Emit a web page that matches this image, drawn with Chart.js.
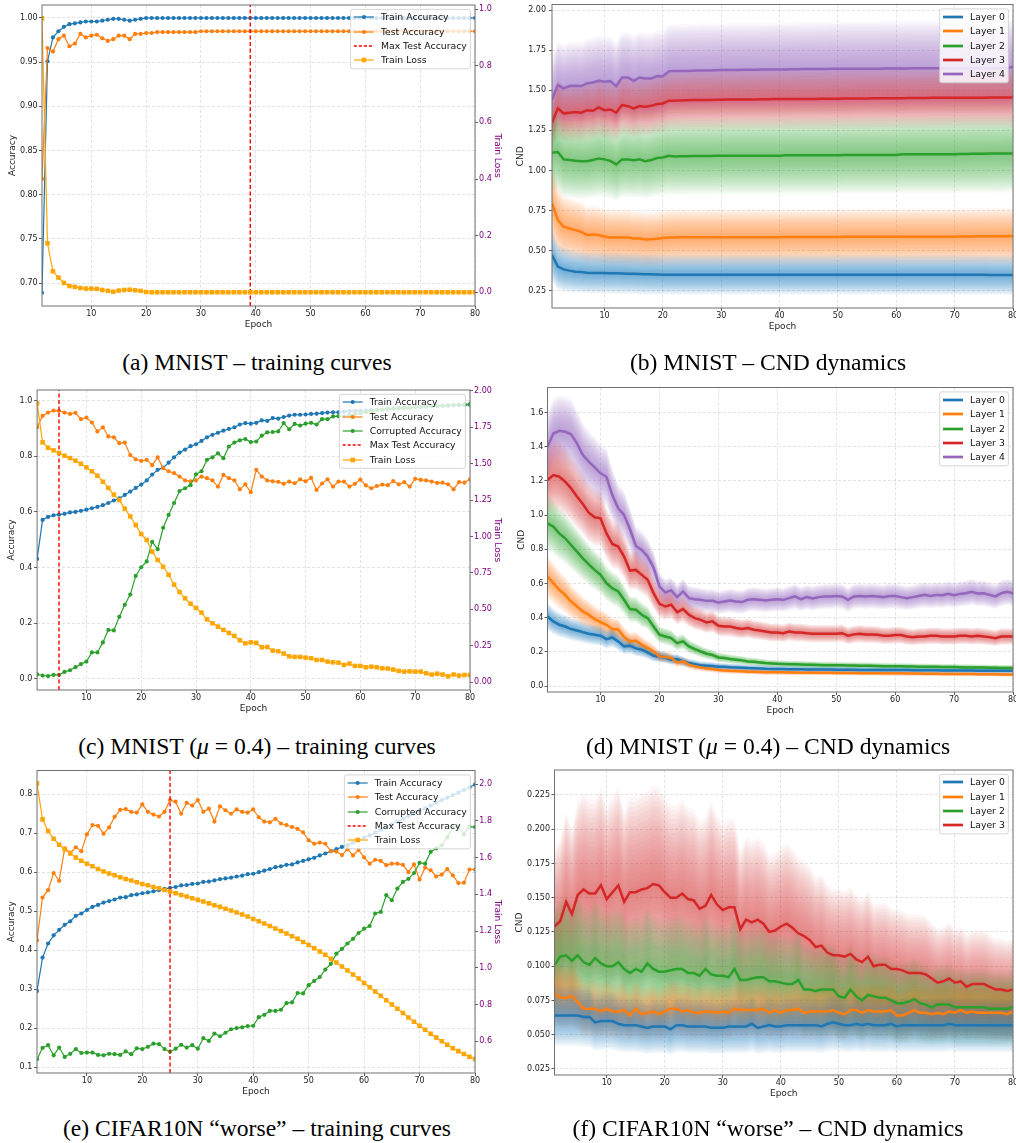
<!DOCTYPE html>
<html>
<head>
<meta charset="UTF-8">
<script src="https://cdn.jsdelivr.net/npm/chart.js@4.4.0/dist/chart.umd.min.js"></script>
<style>
  body { margin: 0; background: #fff; width: 1016px; height: 1143px; position: relative; overflow: hidden; }
  canvas { position: absolute; }
  .cap {
    position: absolute; width: 520px; text-align: center; white-space: nowrap;
    font-family: "Liberation Serif", "Times New Roman", serif; font-size: 23.6px; line-height: 24px; color: #000;
  }
</style>
</head>
<body>
<canvas id="ca" width="512" height="335" style="left:0px;top:0px"></canvas>
<canvas id="cb" width="510" height="335" style="left:506px;top:0px"></canvas>
<canvas id="cc" width="512" height="340" style="left:0px;top:380px"></canvas>
<canvas id="cd" width="510" height="340" style="left:506px;top:380px"></canvas>
<canvas id="ce" width="512" height="345" style="left:0px;top:760px"></canvas>
<canvas id="cf" width="510" height="345" style="left:506px;top:760px"></canvas>

<div class="cap" style="left:-3px;top:350px">(a) MNIST – training curves</div>
<div class="cap" style="left:508px;top:350px">(b) MNIST – CND dynamics</div>
<div class="cap" style="left:-3px;top:734px">(c) MNIST (<i>μ</i> = 0.4) – training curves</div>
<div class="cap" style="left:508px;top:734px">(d) MNIST (<i>μ</i> = 0.4) – CND dynamics</div>
<div class="cap" style="left:-3px;top:1116px">(e) CIFAR10N “worse” – training curves</div>
<div class="cap" style="left:508px;top:1116px">(f) CIFAR10N “worse” – CND dynamics</div>

<script>
// ---- data ----
const epochs = Array.from({length: 80}, (_, i) => i + 1);
const xTicks = [10, 20, 30, 40, 50, 60, 70, 80];

// (a) MNIST training curves
const trainAccA = [
  0.689,0.951,0.978,0.985,0.990,0.993,0.994,0.995,0.996,0.996,
  0.996,0.997,0.998,0.999,0.999,0.998,0.997,0.998,0.999,1.000,
  1.000,1.000,1.000,1.000,1.000,1.000,1.000,1.000,1.000,1.000,
  1.000,1.000,1.000,1.000,1.000,1.000,1.000,1.000,1.000,1.000,
  1.000,1.000,1.000,1.000,1.000,1.000,1.000,1.000,1.000,1.000,
  1.000,1.000,1.000,1.000,1.000,1.000,1.000,1.000,1.000,1.000,
  1.000,1.000,1.000,1.000,1.000,1.000,1.000,1.000,1.000,1.000,
  1.000,1.000,1.000,1.000,1.000,1.000,1.000,1.000,1.000,1.000];
const testAccA = [
  0.818,0.966,0.962,0.976,0.980,0.968,0.971,0.982,0.978,0.980,
  0.981,0.977,0.974,0.976,0.980,0.980,0.976,0.982,0.982,0.983,
  0.983,0.984,0.984,0.984,0.984,0.984,0.984,0.984,0.984,0.985,
  0.985,0.985,0.985,0.985,0.985,0.985,0.985,0.985,0.985,0.985,
  0.985,0.985,0.985,0.985,0.985,0.985,0.985,0.985,0.985,0.985,
  0.985,0.985,0.985,0.985,0.985,0.985,0.985,0.985,0.985,0.985,
  0.985,0.985,0.985,0.985,0.985,0.985,0.985,0.985,0.985,0.985,
  0.985,0.985,0.985,0.985,0.985,0.985,0.985,0.985,0.985,0.985];
const trainLossA = [
  0.968,0.173,0.074,0.052,0.033,0.022,0.019,0.015,0.013,0.013,
  0.012,0.008,0.005,0.002,0.006,0.008,0.009,0.007,0.005,0.001,
  0.000,0.000,0.000,0.000,0.000,0.000,0.000,0.000,0.000,0.000,
  0.000,0.000,0.000,0.000,0.000,0.000,0.000,0.000,0.000,0.000,
  0.000,0.000,0.000,0.000,0.000,0.000,0.000,0.000,0.000,0.000,
  0.000,0.000,0.000,0.000,0.000,0.000,0.000,0.000,0.000,0.000,
  0.000,0.000,0.000,0.000,0.000,0.000,0.000,0.000,0.000,0.000,
  0.000,0.000,0.000,0.000,0.000,0.000,0.000,0.000,0.000,0.000];
const bestEpochA = 39;
const accTicksA = [0.70, 0.75, 0.80, 0.85, 0.90, 0.95, 1.00];
const lossTicksA = [0.0, 0.2, 0.4, 0.6, 0.8, 1.0];

// (b) MNIST CND
const cndB0 = [
  0.472,0.400,0.383,0.375,0.368,0.366,0.362,0.360,0.360,0.360,
  0.359,0.358,0.357,0.356,0.355,0.354,0.352,0.352,0.351,0.350,
  0.350,0.350,0.350,0.350,0.350,0.350,0.350,0.350,0.350,0.350,
  0.350,0.350,0.350,0.350,0.350,0.350,0.350,0.350,0.350,0.350,
  0.350,0.350,0.350,0.350,0.350,0.350,0.350,0.350,0.350,0.350,
  0.350,0.350,0.350,0.350,0.350,0.350,0.350,0.350,0.350,0.350,
  0.349,0.349,0.349,0.349,0.349,0.349,0.349,0.349,0.349,0.349,
  0.349,0.349,0.349,0.349,0.349,0.348,0.348,0.348,0.348,0.348];
const cndB1 = [
  0.794,0.690,0.649,0.638,0.628,0.618,0.597,0.601,0.597,0.587,
  0.582,0.582,0.582,0.582,0.576,0.576,0.570,0.571,0.574,0.578,
  0.582,0.582,0.583,0.583,0.583,0.583,0.583,0.583,0.584,0.584,
  0.584,0.584,0.584,0.584,0.584,0.584,0.584,0.584,0.584,0.584,
  0.585,0.585,0.585,0.585,0.585,0.585,0.585,0.585,0.585,0.585,
  0.586,0.586,0.586,0.586,0.586,0.586,0.586,0.586,0.586,0.586,
  0.587,0.587,0.587,0.587,0.587,0.587,0.587,0.587,0.587,0.587,
  0.588,0.588,0.588,0.589,0.589,0.589,0.590,0.590,0.590,0.591];
const cndB2 = [
  1.110,1.115,1.069,1.065,1.060,1.058,1.058,1.065,1.075,1.069,
  1.060,1.038,1.069,1.069,1.063,1.069,1.058,1.065,1.077,1.081,
  1.092,1.087,1.089,1.089,1.090,1.090,1.090,1.090,1.091,1.091,
  1.092,1.092,1.092,1.092,1.092,1.092,1.092,1.092,1.092,1.092,
  1.094,1.094,1.094,1.094,1.094,1.094,1.094,1.094,1.094,1.094,
  1.097,1.097,1.097,1.097,1.097,1.097,1.097,1.097,1.097,1.097,
  1.101,1.101,1.101,1.101,1.101,1.101,1.101,1.101,1.101,1.101,
  1.103,1.103,1.104,1.104,1.104,1.105,1.105,1.105,1.106,1.106];
const cndB3 = [
  1.297,1.387,1.356,1.360,1.364,1.360,1.376,1.372,1.393,1.376,
  1.380,1.360,1.408,1.401,1.387,1.401,1.397,1.403,1.414,1.418,
  1.435,1.435,1.437,1.438,1.439,1.439,1.440,1.440,1.441,1.441,
  1.442,1.442,1.442,1.443,1.443,1.443,1.444,1.444,1.445,1.445,
  1.445,1.445,1.446,1.446,1.446,1.446,1.447,1.447,1.447,1.447,
  1.448,1.448,1.449,1.449,1.449,1.450,1.450,1.450,1.451,1.451,
  1.451,1.452,1.452,1.452,1.452,1.453,1.453,1.453,1.453,1.453,
  1.454,1.454,1.454,1.454,1.454,1.455,1.455,1.455,1.455,1.455];
const cndB4 = [
  1.440,1.532,1.512,1.526,1.528,1.526,1.543,1.549,1.559,1.553,
  1.557,1.526,1.580,1.580,1.559,1.580,1.574,1.574,1.588,1.588,
  1.618,1.620,1.621,1.621,1.622,1.623,1.624,1.624,1.625,1.626,
  1.626,1.627,1.627,1.628,1.628,1.628,1.629,1.629,1.630,1.630,
  1.630,1.631,1.631,1.632,1.632,1.632,1.633,1.633,1.634,1.634,
  1.634,1.634,1.635,1.635,1.635,1.635,1.635,1.636,1.636,1.636,
  1.636,1.636,1.637,1.637,1.637,1.637,1.637,1.637,1.638,1.638,
  1.638,1.638,1.638,1.638,1.638,1.638,1.638,1.638,1.637,1.647];
const spreadB = [0.36, 0.30, 0.22, 0.13, 0.18];
const cndTicksB = [0.25, 0.50, 0.75, 1.00, 1.25, 1.50, 1.75, 2.00];

// (c) MNIST (mu = 0.4) training curves
const trainAccC = [
  0.431,0.571,0.582,0.588,0.590,0.593,0.598,0.600,0.604,0.608,
  0.613,0.618,0.624,0.632,0.641,0.649,0.661,0.673,0.686,0.698,
  0.713,0.734,0.751,0.759,0.777,0.796,0.813,0.824,0.836,0.843,
  0.855,0.868,0.877,0.884,0.892,0.898,0.904,0.914,0.919,0.917,
  0.920,0.929,0.927,0.937,0.935,0.941,0.946,0.949,0.949,0.950,
  0.952,0.953,0.955,0.957,0.958,0.958,0.960,0.962,0.962,0.963,
  0.964,0.966,0.967,0.968,0.970,0.971,0.972,0.973,0.975,0.976,
  0.977,0.978,0.979,0.980,0.981,0.982,0.983,0.984,0.984,0.985];
const testAccC = [
  0.904,0.945,0.957,0.964,0.963,0.957,0.952,0.956,0.933,0.939,
  0.921,0.889,0.904,0.871,0.868,0.847,0.849,0.804,0.789,0.783,
  0.787,0.768,0.796,0.757,0.746,0.739,0.727,0.713,0.710,0.713,
  0.727,0.721,0.713,0.691,0.733,0.721,0.713,0.681,0.699,0.671,
  0.751,0.727,0.713,0.710,0.708,0.701,0.709,0.703,0.717,0.710,
  0.722,0.679,0.702,0.717,0.691,0.709,0.709,0.691,0.701,0.716,
  0.695,0.685,0.693,0.698,0.696,0.711,0.699,0.707,0.691,0.719,
  0.715,0.713,0.709,0.704,0.705,0.699,0.681,0.707,0.705,0.717];
const corruptAccC = [
  0.016,0.012,0.010,0.014,0.014,0.025,0.031,0.042,0.053,0.062,
  0.095,0.095,0.131,0.176,0.174,0.223,0.266,0.303,0.370,0.401,
  0.422,0.492,0.466,0.543,0.589,0.632,0.675,0.685,0.696,0.735,
  0.746,0.787,0.796,0.810,0.793,0.835,0.849,0.857,0.862,0.851,
  0.853,0.874,0.886,0.887,0.889,0.919,0.897,0.916,0.910,0.917,
  0.920,0.914,0.933,0.933,0.943,0.944,0.943,0.948,0.952,0.955,
  0.958,0.962,0.965,0.968,0.970,0.972,0.973,0.974,0.975,0.976,
  0.977,0.979,0.980,0.981,0.982,0.983,0.984,0.985,0.986,0.987];
const trainLossC = [
  1.913,1.646,1.609,1.591,1.573,1.554,1.538,1.520,1.499,1.474,
  1.447,1.417,1.376,1.333,1.287,1.250,1.191,1.138,1.079,1.017,
  0.976,0.896,0.839,0.793,0.738,0.670,0.619,0.576,0.539,0.510,
  0.478,0.432,0.405,0.382,0.359,0.338,0.318,0.288,0.267,0.274,
  0.270,0.240,0.242,0.217,0.213,0.197,0.178,0.174,0.174,0.169,
  0.165,0.153,0.153,0.142,0.137,0.135,0.119,0.128,0.112,0.112,
  0.103,0.107,0.103,0.096,0.094,0.087,0.078,0.073,0.075,0.073,
  0.073,0.062,0.053,0.059,0.053,0.041,0.053,0.046,0.050,0.050];
const bestEpochC = 5;
const accTicksC = [0.0, 0.2, 0.4, 0.6, 0.8, 1.0];
const lossTicksC = [0.00, 0.25, 0.50, 0.75, 1.00, 1.25, 1.50, 1.75, 2.00];

// (d) MNIST (mu = 0.4) CND
const cndD0 = [
  0.407,0.378,0.358,0.348,0.333,0.325,0.315,0.306,0.300,0.294,
  0.274,0.284,0.261,0.232,0.236,0.220,0.212,0.197,0.177,0.173,
  0.167,0.154,0.158,0.144,0.134,0.128,0.121,0.119,0.117,0.113,
  0.112,0.110,0.109,0.107,0.105,0.104,0.103,0.101,0.100,0.099,
  0.099,0.098,0.098,0.098,0.097,0.097,0.097,0.096,0.096,0.095,
  0.095,0.095,0.095,0.094,0.094,0.094,0.094,0.093,0.093,0.093,
  0.093,0.093,0.092,0.092,0.092,0.092,0.092,0.091,0.091,0.091,
  0.091,0.091,0.091,0.090,0.090,0.090,0.090,0.090,0.090,0.090];
const cndD1 = [
  0.640,0.601,0.563,0.533,0.494,0.465,0.436,0.417,0.391,0.374,
  0.358,0.333,0.329,0.286,0.261,0.265,0.241,0.222,0.202,0.173,
  0.169,0.164,0.138,0.144,0.125,0.115,0.109,0.103,0.099,0.093,
  0.091,0.089,0.088,0.086,0.084,0.083,0.082,0.081,0.081,0.080,
  0.080,0.079,0.079,0.078,0.078,0.078,0.077,0.077,0.077,0.076,
  0.076,0.076,0.076,0.075,0.075,0.075,0.075,0.074,0.074,0.074,
  0.074,0.073,0.073,0.073,0.072,0.072,0.072,0.071,0.071,0.070,
  0.070,0.070,0.070,0.069,0.069,0.069,0.069,0.068,0.068,0.068];
const cndD2 = [
  0.952,0.932,0.893,0.864,0.825,0.786,0.747,0.712,0.679,0.650,
  0.601,0.572,0.553,0.504,0.450,0.446,0.417,0.397,0.348,0.300,
  0.290,0.280,0.251,0.261,0.232,0.216,0.202,0.189,0.181,0.167,
  0.164,0.158,0.154,0.150,0.144,0.142,0.138,0.134,0.132,0.130,
  0.129,0.128,0.127,0.126,0.125,0.124,0.123,0.122,0.122,0.121,
  0.121,0.120,0.120,0.119,0.119,0.118,0.117,0.116,0.116,0.115,
  0.115,0.114,0.114,0.113,0.113,0.112,0.112,0.111,0.111,0.111,
  0.110,0.109,0.109,0.108,0.108,0.107,0.107,0.106,0.106,0.105];
const cndD3 = [
  1.205,1.234,1.224,1.195,1.156,1.108,1.065,1.014,0.987,0.981,
  0.893,0.831,0.816,0.757,0.675,0.679,0.650,0.621,0.543,0.481,
  0.465,0.475,0.432,0.450,0.417,0.397,0.387,0.372,0.378,0.352,
  0.348,0.348,0.339,0.333,0.339,0.329,0.325,0.319,0.313,0.313,
  0.309,0.319,0.313,0.313,0.309,0.306,0.306,0.306,0.306,0.306,
  0.309,0.294,0.302,0.306,0.302,0.302,0.300,0.294,0.294,0.298,
  0.298,0.290,0.286,0.290,0.290,0.294,0.294,0.290,0.290,0.290,
  0.294,0.294,0.290,0.294,0.290,0.286,0.280,0.290,0.290,0.290];
const cndD4 = [
  1.400,1.477,1.493,1.487,1.473,1.419,1.351,1.312,1.279,1.244,
  1.224,1.117,1.039,1.000,0.917,0.819,0.796,0.757,0.693,0.582,
  0.547,0.559,0.520,0.553,0.514,0.508,0.504,0.498,0.498,0.489,
  0.494,0.500,0.494,0.491,0.504,0.508,0.504,0.500,0.504,0.508,
  0.504,0.514,0.524,0.508,0.520,0.512,0.520,0.524,0.524,0.527,
  0.524,0.504,0.524,0.527,0.524,0.527,0.524,0.520,0.527,0.527,
  0.520,0.514,0.520,0.527,0.533,0.527,0.533,0.531,0.539,0.531,
  0.539,0.543,0.551,0.541,0.543,0.533,0.524,0.543,0.551,0.543];
const spreadD = [0.20, 0.20, 0.17, 0.17, 0.14];
const cndTicksD = [0.0, 0.2, 0.4, 0.6, 0.8, 1.0, 1.2, 1.4, 1.6];

// (e) CIFAR10N "worse" training curves
const trainAccE = [
  0.295,0.381,0.417,0.438,0.452,0.465,0.474,0.488,0.494,0.503,
  0.511,0.516,0.522,0.526,0.530,0.535,0.536,0.541,0.543,0.546,
  0.548,0.551,0.554,0.557,0.560,0.562,0.566,0.567,0.570,0.571,
  0.575,0.576,0.579,0.582,0.584,0.586,0.589,0.591,0.595,0.596,
  0.600,0.604,0.608,0.613,0.615,0.619,0.620,0.625,0.629,0.633,
  0.637,0.643,0.648,0.654,0.659,0.665,0.669,0.676,0.682,0.689,
  0.695,0.702,0.709,0.716,0.723,0.730,0.737,0.744,0.750,0.757,
  0.764,0.771,0.778,0.785,0.791,0.798,0.804,0.811,0.818,0.825];
const testAccE = [
  0.425,0.535,0.554,0.598,0.578,0.661,0.650,0.664,0.654,0.697,
  0.721,0.719,0.699,0.715,0.742,0.760,0.762,0.755,0.753,0.774,
  0.755,0.748,0.743,0.755,0.785,0.781,0.750,0.778,0.771,0.785,
  0.755,0.763,0.730,0.769,0.759,0.750,0.761,0.755,0.753,0.761,
  0.741,0.730,0.728,0.737,0.725,0.721,0.716,0.711,0.702,0.682,
  0.673,0.676,0.673,0.654,0.653,0.644,0.659,0.643,0.657,0.638,
  0.622,0.632,0.629,0.618,0.622,0.622,0.619,0.600,0.620,0.581,
  0.612,0.605,0.589,0.594,0.608,0.592,0.572,0.573,0.607,0.607];
const corruptAccE = [
  0.120,0.149,0.156,0.130,0.150,0.126,0.134,0.146,0.136,0.137,
  0.137,0.131,0.130,0.134,0.133,0.131,0.140,0.133,0.148,0.146,
  0.152,0.160,0.159,0.146,0.139,0.147,0.157,0.150,0.156,0.147,
  0.174,0.167,0.186,0.179,0.188,0.197,0.200,0.202,0.205,0.206,
  0.228,0.234,0.244,0.244,0.247,0.264,0.266,0.290,0.289,0.310,
  0.321,0.331,0.350,0.365,0.391,0.403,0.417,0.429,0.444,0.455,
  0.462,0.494,0.498,0.541,0.528,0.558,0.575,0.583,0.598,0.624,
  0.622,0.652,0.661,0.669,0.690,0.716,0.717,0.697,0.717,0.716];
const trainLossE = [
  2.004,1.808,1.745,1.703,1.670,1.645,1.623,1.601,1.583,1.567,
  1.553,1.538,1.525,1.514,1.504,1.493,1.484,1.475,1.466,1.457,
  1.449,1.440,1.433,1.424,1.415,1.406,1.397,1.388,1.379,1.370,
  1.361,1.351,1.341,1.332,1.322,1.312,1.301,1.290,1.279,1.266,
  1.254,1.241,1.228,1.214,1.201,1.187,1.172,1.158,1.141,1.125,
  1.107,1.089,1.071,1.049,1.029,1.007,0.986,0.964,0.942,0.918,
  0.895,0.871,0.848,0.824,0.801,0.777,0.754,0.730,0.707,0.685,
  0.663,0.641,0.621,0.601,0.582,0.563,0.547,0.531,0.516,0.504];
const bestEpochE = 25;
const accTicksE = [0.1, 0.2, 0.3, 0.4, 0.5, 0.6, 0.7, 0.8];
const lossTicksE = [0.6, 0.8, 1.0, 1.2, 1.4, 1.6, 1.8, 2.0];

// (f) CIFAR10N "worse" CND
const cndF0 = [
  0.064,0.064,0.064,0.064,0.064,0.063,0.063,0.059,0.060,0.060,
  0.060,0.058,0.057,0.057,0.057,0.056,0.055,0.056,0.056,0.056,
  0.054,0.057,0.057,0.056,0.056,0.056,0.056,0.055,0.055,0.055,
  0.056,0.056,0.056,0.056,0.058,0.055,0.056,0.057,0.056,0.056,
  0.057,0.057,0.057,0.057,0.057,0.057,0.056,0.058,0.059,0.058,
  0.057,0.057,0.058,0.057,0.058,0.057,0.057,0.057,0.058,0.056,
  0.057,0.057,0.057,0.057,0.057,0.057,0.057,0.057,0.058,0.057,
  0.057,0.057,0.057,0.057,0.057,0.057,0.057,0.057,0.057,0.057];
const cndF1 = [
  0.080,0.077,0.077,0.078,0.074,0.069,0.069,0.069,0.067,0.069,
  0.067,0.067,0.068,0.064,0.069,0.065,0.066,0.067,0.065,0.067,
  0.069,0.069,0.067,0.068,0.066,0.066,0.067,0.067,0.066,0.067,
  0.066,0.069,0.068,0.068,0.068,0.068,0.069,0.066,0.068,0.066,
  0.068,0.068,0.069,0.066,0.067,0.067,0.067,0.067,0.068,0.066,
  0.065,0.068,0.068,0.066,0.068,0.067,0.067,0.067,0.068,0.064,
  0.064,0.066,0.068,0.066,0.066,0.065,0.066,0.065,0.067,0.066,
  0.068,0.066,0.067,0.066,0.066,0.066,0.066,0.066,0.065,0.067];
const cndF2 = [
  0.101,0.107,0.108,0.104,0.108,0.103,0.101,0.106,0.102,0.100,
  0.100,0.103,0.098,0.095,0.098,0.096,0.102,0.098,0.096,0.096,
  0.097,0.098,0.098,0.095,0.095,0.093,0.098,0.094,0.093,0.093,
  0.092,0.098,0.090,0.090,0.091,0.092,0.092,0.089,0.089,0.088,
  0.087,0.087,0.090,0.083,0.083,0.082,0.083,0.083,0.083,0.078,
  0.077,0.083,0.078,0.075,0.079,0.078,0.077,0.077,0.075,0.073,
  0.073,0.074,0.076,0.073,0.072,0.070,0.072,0.072,0.072,0.070,
  0.070,0.070,0.070,0.070,0.070,0.069,0.069,0.069,0.069,0.070];
const cndF3 = [
  0.129,0.133,0.147,0.138,0.152,0.156,0.153,0.153,0.159,0.149,
  0.154,0.159,0.147,0.154,0.154,0.156,0.157,0.160,0.159,0.154,
  0.150,0.150,0.153,0.149,0.148,0.142,0.144,0.152,0.145,0.141,
  0.143,0.143,0.127,0.134,0.132,0.134,0.131,0.125,0.126,0.129,
  0.131,0.128,0.124,0.122,0.119,0.114,0.115,0.110,0.108,0.108,
  0.107,0.109,0.105,0.103,0.107,0.100,0.101,0.101,0.098,0.098,
  0.097,0.095,0.095,0.095,0.094,0.091,0.088,0.089,0.091,0.088,
  0.089,0.085,0.087,0.087,0.087,0.085,0.083,0.083,0.082,0.083];
const spreadF = [0.35, 0.30, 0.40, 0.45];
const cndTicksF = [0.025, 0.050, 0.075, 0.100, 0.125, 0.150, 0.175, 0.200, 0.225];

// ---- styling ----
Chart.defaults.font.family = '"DejaVu Sans", sans-serif';
Chart.defaults.font.size = 8;
Chart.defaults.color = '#222';
Chart.defaults.animation = false;

const TAB = ['#1f77b4', '#ff7f0e', '#2ca02c', '#d62728', '#9467bd'];
const LOSS_COLOR = '#ffa500';
const RIGHT_COLOR = '#800080';
const GRID = 'rgba(0,0,0,0.14)';
const LEVELS = 20;
const LEVEL_ALPHA = 0.045;

function pts(arr) { return arr.map((v, i) => ({x: epochs[i], y: v})); }
function rgba(hex, a) {
  const n = parseInt(hex.slice(1), 16);
  return 'rgba(' + (n >> 16) + ',' + ((n >> 8) & 255) + ',' + (n & 255) + ',' + a + ')';
}

function xScale(height, titlePad) {
  return {
    type: 'linear', min: 1, max: 80,
    afterBuildTicks: s => { s.ticks = xTicks.map(v => ({value: v})); },
    afterFit: s => { s.height = height; s.paddingLeft = 0; s.paddingRight = 0; },
    ticks: { autoSkip: false, maxRotation: 0, minRotation: 0, padding: 0, callback: v => String(v) },
    grid: { color: GRID, lineWidth: 0.8, tickLength: 3, tickColor: '#333', tickWidth: 0.8 },
    border: { display: false, dash: [3, 2] },
    title: { display: true, text: 'Epoch', color: '#222', font: {size: 9}, padding: {top: 0, bottom: titlePad} }
  };
}

function yScale(pos, min, max, ticks, dec, width, text, titlePad, tickPad, color, grid) {
  return {
    type: 'linear', position: pos, min: min, max: max,
    afterBuildTicks: s => { s.ticks = ticks.map(v => ({value: v})); },
    afterFit: s => { s.width = width; s.paddingTop = 0; s.paddingBottom = 0; },
    ticks: { autoSkip: false, padding: tickPad, color: color, callback: v => Number(v).toFixed(dec) },
    grid: { drawOnChartArea: grid, color: GRID, lineWidth: 0.8, tickLength: 3, tickColor: '#333', tickWidth: 0.8 },
    border: { display: false, dash: [3, 2] },
    title: { display: true, text: text, color: color, font: {size: 9}, padding: {top: titlePad, bottom: 0} }
  };
}

const framePlugin = {
  id: 'frame',
  afterDatasetsDraw(chart) {
    const {ctx, chartArea: a} = chart;
    ctx.save();
    ctx.strokeStyle = '#707070';
    ctx.lineWidth = 1;
    ctx.strokeRect(a.left, a.top, a.right - a.left, a.bottom - a.top);
    ctx.restore();
  }
};

// matplotlib-like legend in the upper right corner of the plot area
function legendPlugin(items) {
  return {
    id: 'mplLegend',
    afterDraw(chart) {
      const {ctx, chartArea: a} = chart;
      ctx.save();
      ctx.font = '9.3px "DejaVu Sans"';
      const tw = Math.max(...items.map(it => ctx.measureText(it.label).width));
      const rowH = 14.45, padTop = 7.7, padBot = 8.4;
      const w = 30.3 + tw + 3.6;
      const h = padTop + (items.length - 1) * rowH + padBot;
      const x0 = a.right - 4.6 - w, y0 = a.top + 4.4;
      ctx.beginPath();
      ctx.roundRect(x0, y0, w, h, 2);
      ctx.fillStyle = 'rgba(255,255,255,0.8)';
      ctx.fill();
      ctx.strokeStyle = '#cccccc';
      ctx.lineWidth = 0.8;
      ctx.stroke();
      items.forEach((it, i) => {
        const cy = Math.round(y0 + padTop + i * rowH);
        ctx.beginPath();
        ctx.setLineDash(it.dash || []);
        ctx.strokeStyle = it.color;
        ctx.lineWidth = it.width;
        ctx.moveTo(x0 + 3.3, cy);
        ctx.lineTo(x0 + 23.3, cy);
        ctx.stroke();
        ctx.setLineDash([]);
        ctx.fillStyle = it.color;
        if (it.marker === 'circle') {
          ctx.beginPath(); ctx.arc(x0 + 13.3, cy, 2.1, 0, Math.PI * 2); ctx.fill();
        } else if (it.marker === 'square') {
          ctx.fillRect(x0 + 13.3 - 2.3, cy - 2.3, 4.6, 4.6);
        }
        ctx.fillStyle = '#111';
        ctx.textBaseline = 'middle';
        ctx.fillText(it.label, x0 + 30.3, cy + 0.5);
      });
      ctx.restore();
    }
  };
}

function lineDs(label, arr, color, marker, axis, order) {
  return {
    label: label, data: pts(arr), yAxisID: axis, order: order,
    borderColor: color, backgroundColor: color, borderWidth: 1.2, tension: 0, fill: false,
    pointStyle: marker === 'square' ? 'rect' : 'circle',
    pointRadius: marker === 'square' ? 3.2 : 2.1,
    pointBorderWidth: 0, pointBackgroundColor: color
  };
}

function trainChart(id, g) {
  const datasets = [
    lineDs('Train Accuracy', g.train, TAB[0], 'circle', 'y', 5),
    lineDs('Test Accuracy', g.test, TAB[1], 'circle', 'y', 4)
  ];
  const items = [
    {label: 'Train Accuracy', color: TAB[0], width: 1.2, marker: 'circle'},
    {label: 'Test Accuracy', color: TAB[1], width: 1.2, marker: 'circle'}
  ];
  if (g.corrupt) {
    datasets.push(lineDs('Corrupted Accuracy', g.corrupt, TAB[2], 'circle', 'y', 3));
    items.push({label: 'Corrupted Accuracy', color: TAB[2], width: 1.2, marker: 'circle'});
  }
  datasets.push({
    label: 'Max Test Accuracy', yAxisID: 'y', order: 1,
    data: [{x: g.best, y: g.yMin}, {x: g.best, y: g.yMax}],
    borderColor: '#ff0000', borderWidth: 1.4, borderDash: [4, 2.5], pointRadius: 0, fill: false
  });
  items.push({label: 'Max Test Accuracy', color: '#ff0000', width: 1.3, dash: [3, 2]});
  datasets.push(lineDs('Train Loss', g.loss, LOSS_COLOR, 'square', 'y1', 0));
  items.push({label: 'Train Loss', color: LOSS_COLOR, width: 1.2, marker: 'square'});

  new Chart(document.getElementById(id), {
    type: 'line',
    data: { datasets: datasets },
    options: {
      responsive: false, devicePixelRatio: 1,
      layout: { autoPadding: false, padding: {top: g.padTop, right: 0, bottom: 0, left: 0} },
      plugins: { legend: {display: false}, tooltip: {enabled: false} },
      scales: {
        x: xScale(g.xH, g.xTitlePad),
        y: yScale('left', g.yMin, g.yMax, g.yTicks, g.yDec, g.yW, 'Accuracy', g.yTitlePad, g.yTickPad, '#222', true),
        y1: yScale('right', g.lMin, g.lMax, g.lTicks, g.lDec, g.lW, 'Train Loss', g.lTitlePad, g.lTickPad, RIGHT_COLOR, false)
      }
    },
    plugins: [framePlugin, legendPlugin(items)]
  });
}

function cndChart(id, g) {
  const datasets = [];
  g.means.forEach((m, li) => {
    for (let j = 1; j <= LEVELS; j++) {
      const f = g.spread[li] * j / LEVELS;
      datasets.push({ data: pts(m.map(v => v * (1 + f))), fill: '+1', order: 100,
        backgroundColor: rgba(TAB[li], LEVEL_ALPHA), borderColor: 'transparent', borderWidth: 0, pointRadius: 0 });
      datasets.push({ data: pts(m.map(v => v * (1 - f))), fill: false, order: 100,
        borderColor: 'transparent', borderWidth: 0, pointRadius: 0 });
    }
  });
  const items = [];
  g.means.forEach((m, li) => {
    datasets.push({ label: 'Layer ' + li, data: pts(m), order: 10 - li, fill: false,
      borderColor: TAB[li], borderWidth: 2.5, pointRadius: 0, tension: 0 });
    items.push({label: 'Layer ' + li, color: TAB[li], width: 2.7});
  });
  new Chart(document.getElementById(id), {
    type: 'line',
    data: { datasets: datasets },
    options: {
      responsive: false, devicePixelRatio: 1,
      layout: { autoPadding: false, padding: {top: g.padTop, right: 3, bottom: 0, left: 0} },
      plugins: { legend: {display: false}, tooltip: {enabled: false} },
      scales: {
        x: xScale(g.xH, g.xTitlePad),
        y: yScale('left', g.yMin, g.yMax, g.yTicks, g.yDec, g.yW, 'CND', g.yTitlePad, g.yTickPad, '#222', true)
      }
    },
    plugins: [framePlugin, legendPlugin(items)]
  });
}

trainChart('ca', {
  train: trainAccA, test: testAccA, loss: trainLossA, best: bestEpochA,
  yMin: 0.674, yMax: 1.0147, yTicks: accTicksA, yDec: 2,
  lMin: -0.0485, lMax: 1.0145, lTicks: lossTicksA, lDec: 1,
  padTop: 5, xH: 29, xTitlePad: 5.3, yW: 42, yTitlePad: 7.1, yTickPad: 1.3,
  lW: 37, lTitlePad: 9.3, lTickPad: 1
});
cndChart('cb', {
  means: [cndB0, cndB1, cndB2, cndB3, cndB4], spread: spreadB,
  yMin: 0.142, yMax: 2.035, yTicks: cndTicksB, yDec: 2,
  padTop: 4.5, xH: 27, xTitlePad: 2.9, yW: 46, yTitlePad: 9.3, yTickPad: 3
});
trainChart('cc', {
  train: trainAccC, test: testAccC, corrupt: corruptAccC, loss: trainLossC, best: bestEpochC,
  yMin: -0.04, yMax: 1.038, yTicks: accTicksC, yDec: 1,
  lMin: -0.053, lMax: 2.005, lTicks: lossTicksC, lDec: 2,
  padTop: 10, xH: 30, xTitlePad: 6.3, yW: 37.1, yTitlePad: 6.3, yTickPad: 1.8,
  lW: 42, lTitlePad: 9.3, lTickPad: 1
});
cndChart('cd', {
  means: [cndD0, cndD1, cndD2, cndD3, cndD4], spread: spreadD,
  yMin: -0.035, yMax: 1.746, yTicks: cndTicksD, yDec: 1,
  padTop: 7.5, xH: 28, xTitlePad: 3.6, yW: 41.5, yTitlePad: 10.3, yTickPad: 1.2
});
trainChart('ce', {
  train: trainAccE, test: testAccE, corrupt: corruptAccE, loss: trainLossE, best: bestEpochE,
  yMin: 0.0847, yMax: 0.861, yTicks: accTicksE, yDec: 1,
  lMin: 0.428, lMax: 2.074, lTicks: lossTicksE, lDec: 1,
  padTop: 10.5, xH: 32, xTitlePad: 7.9, yW: 37, yTitlePad: 6.3, yTickPad: 1.7,
  lW: 37, lTitlePad: 9.3, lTickPad: 1.3
});
cndChart('cf', {
  means: [cndF0, cndF1, cndF2, cndF3], spread: spreadF,
  yMin: 0.0206, yMax: 0.2432, yTicks: cndTicksF, yDec: 3,
  padTop: 10, xH: 30, xTitlePad: 5.6, yW: 48.5, yTitlePad: 8.6, yTickPad: 1.5
});
</script>
</body>
</html>
